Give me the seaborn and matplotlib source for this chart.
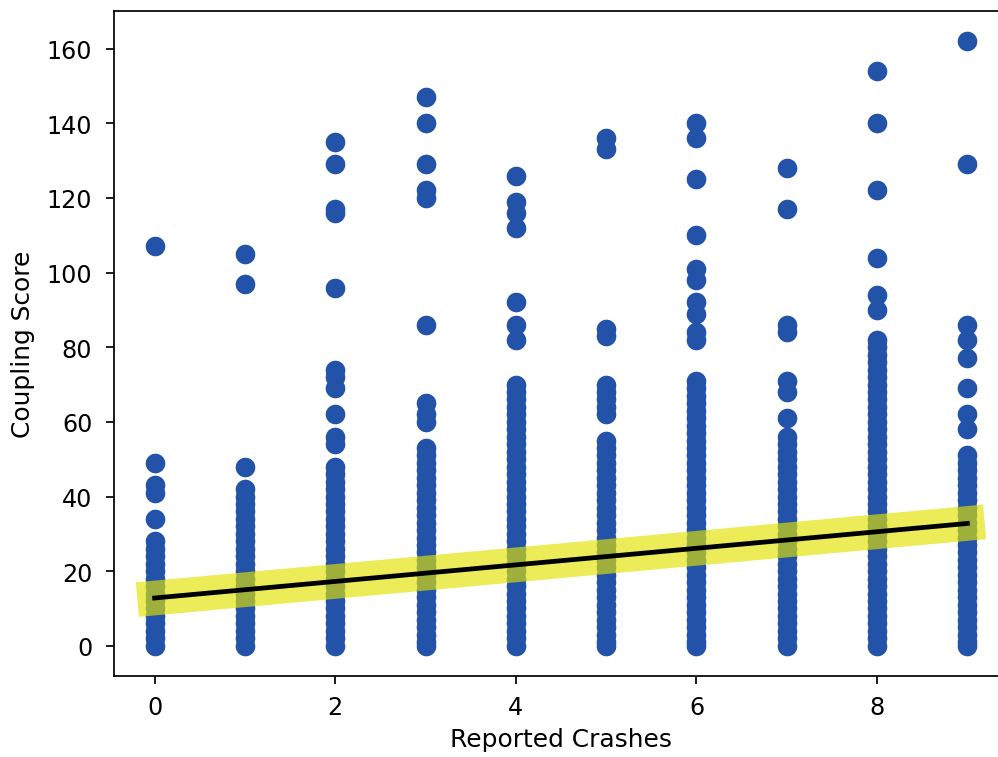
import matplotlib
matplotlib.use("Agg")
import matplotlib.pyplot as plt
import seaborn as sns
import numpy as np
import pandas as pd

crash_counts = [0, 1, 2, 3, 4, 5, 6, 7, 8, 9]

scores_0 = [107, 49, 43, 41, 34, 28, 26, 24, 22, 20, 18, 16, 14, 12, 10, 8, 6, 4, 2, 0]
scores_1 = [105, 97, 48, 42, 40, 38, 36, 34, 32, 30, 28, 26, 24, 22, 20, 18, 16, 14,
            12, 10, 8, 6, 4, 2, 0]
scores_2 = [135, 129, 117, 116, 96, 74, 72, 69, 62, 56, 54, 48, 46, 44, 42, 40, 38, 36,
            34, 32, 30, 28, 26, 24, 22, 20, 18, 16, 14, 12, 10, 8, 6, 4, 2, 0]
scores_3 = [147, 140, 129, 122, 120, 86, 65, 62, 60, 53, 51, 49, 47, 45, 43, 41, 39, 37,
            35, 33, 31, 29, 27, 25, 23, 21, 19, 17, 15, 13, 11, 9, 7, 5, 3, 1, 0]
scores_4 = [126, 119, 116, 112, 92, 86, 82, 70, 68, 66, 64, 62, 60, 58, 56, 54, 52, 50,
            48, 46, 44, 42, 40, 38, 36, 34, 32, 30, 28, 26, 24, 22, 20, 18, 16, 14, 12,
            10, 8, 6, 4, 2, 0]
scores_5 = [136, 133, 85, 83, 70, 68, 66, 64, 62, 55, 53, 51, 49, 47, 45, 43, 41, 39,
            37, 35, 33, 31, 29, 27, 25, 23, 21, 19, 17, 15, 13, 11, 9, 7, 5, 3, 1, 0]
scores_6 = [140, 136, 125, 110, 101, 98, 92, 89, 84, 82, 71, 69, 67, 65, 63, 61, 59, 57,
            55, 53, 51, 49, 47, 45, 43, 41, 39, 37, 35, 33, 31, 29, 27, 25, 23, 21, 19,
            17, 15, 13, 11, 9, 7, 5, 3, 1, 0]
scores_7 = [128, 117, 86, 84, 71, 68, 61, 56, 54, 52, 50, 48, 46, 44, 42, 40, 38, 36,
            34, 32, 30, 28, 26, 24, 22, 20, 18, 16, 14, 12, 10, 8, 6, 4, 2, 0]
scores_8 = [154, 140, 122, 104, 94, 90, 82, 80, 78, 76, 74, 72, 70, 68, 66, 64, 62, 60,
            58, 56, 54, 52, 50, 48, 46, 44, 42, 40, 38, 36, 34, 32, 30, 28, 26, 24, 22,
            20, 18, 16, 14, 12, 10, 8, 6, 4, 2, 0]
scores_9 = [162, 129, 86, 82, 77, 69, 62, 58, 51, 49, 47, 45, 43, 41, 39, 37, 35, 33,
            31, 29, 27, 25, 23, 21, 19, 17, 15, 13, 11, 9, 7, 5, 3, 1, 0]

all_scores = [scores_0, scores_1, scores_2, scores_3, scores_4,
              scores_5, scores_6, scores_7, scores_8, scores_9]

# fitted trend line shown on the chart
fit_intercept = 12.8
fit_slope = 2.22

rows = []
for c, vals in zip(crash_counts, all_scores):
    for v in vals:
        rows.append((c, v))
df = pd.DataFrame(rows, columns=["Reported Crashes", "Coupling Score"])

plt.rcParams["xtick.labelsize"] = 11
plt.rcParams["ytick.labelsize"] = 11
plt.rcParams["xtick.major.pad"] = 5.5
plt.rcParams["ytick.major.pad"] = 6.5

W, H, DPI = 998, 758, 156
fig = plt.figure(figsize=(W / DPI, H / DPI), dpi=DPI)
ax = fig.add_axes([114 / W, 1 - 677 / H, (1008 - 114) / W, (677 - 12) / H])

sns.scatterplot(data=df, x="Reported Crashes", y="Coupling Score", ax=ax,
                color="#2253a9", s=82, linewidth=0, zorder=2)

xfit = np.array([min(crash_counts), max(crash_counts)])
yfit = fit_intercept + fit_slope * xfit
ax.plot(xfit, yfit, color="#e2e200", alpha=0.65, linewidth=16,
        solid_capstyle="projecting", zorder=3)
ax.plot(xfit, yfit, color="black", linewidth=2.2, zorder=4)

ax.set_yticks([0, 20, 40, 60, 80, 100, 120, 140, 160])
ax.set_xticks([0, 2, 4, 6, 8])
ax.set_xlabel("Reported Crashes", fontsize=11.5, labelpad=3.5)
ax.set_ylabel("Coupling Score", fontsize=11.5, labelpad=5.5)

fig.savefig("out.png", dpi=DPI)
